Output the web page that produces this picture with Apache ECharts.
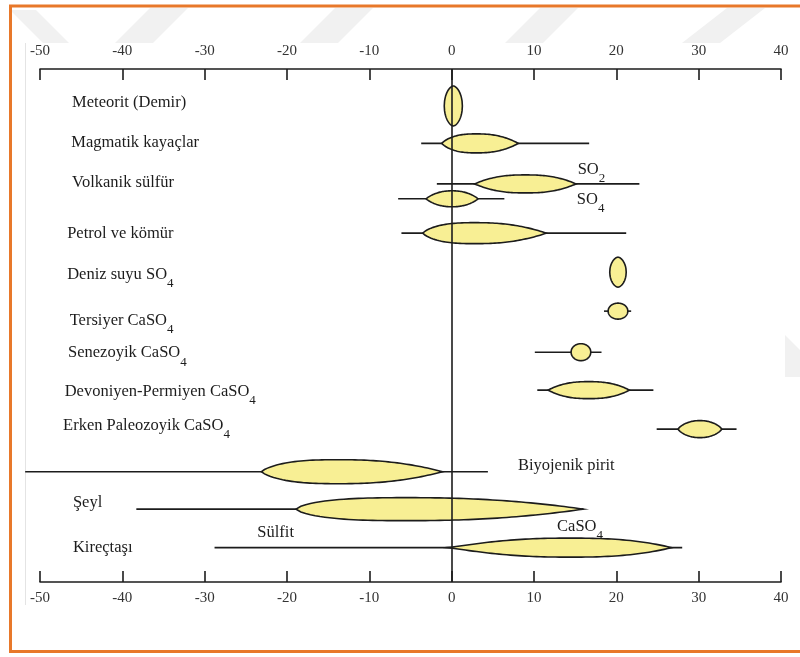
<!DOCTYPE html>
<html>
<head>
<meta charset="utf-8">
<title>Kükürt izotop dağılımı</title>
<script src="https://cdn.jsdelivr.net/npm/echarts@6/dist/echarts.min.js"></script>
<style>
  html, body { margin: 0; padding: 0; background: #fff; }
  #chart { width: 800px; height: 657px; }
</style>
</head>
<body>
<div id="chart"></div>
<script>
// δ34S (‰) aralıkları, satır satır
var rowNames = ['Meteorit (Demir)', 'Magmatik kayaçlar', 'Volkanik sülfür', 'Petrol ve kömür',
  'Deniz suyu SO{s|4}', 'Tersiyer CaSO{s|4}', 'Senezoyik CaSO{s|4}', 'Devoniyen-Permiyen CaSO{s|4}',
  'Erken Paleozoyik CaSO{s|4}', 'Şeyl', 'Kireçtaşı'];

// her çizili satırın dikey sırası (0 üst eksen, 100 alt eksen)
var rowPos   = [7.2, 14.5, 22.4, 25.3, 32.0, 39.6, 47.2, 55.2, 62.6, 70.2, 78.5, 85.8, 93.3];
// toplam aralık (çizgi)
var rangeLo  = [null, -3.7, -1.8, -6.5, -6.1, null, 18.5, 10.1, 10.4, 24.9, -51.8, -38.3, -28.8];
var rangeHi  = [null, 16.7, 22.8, 6.4, 21.2, null, 21.8, 18.2, 24.5, 34.6, 4.4, 16.0, 28.0];
// yoğun aralık (sarı alan)
var coreLo   = [-0.9, -1.2, 2.8, -3.1, -3.5, 19.2, 19.0, 14.5, 11.7, 27.5, -23.1, -18.9, -0.6];
var coreHi   = [1.3, 8.1, 15.1, 3.2, 11.5, 21.2, 21.4, 16.9, 21.6, 32.8, -1.1, 16.0, 26.7];

var tickLabels = [-50, -40, -30, -20, -10, 0, 10, 20, 30, 40];

// yazıların yerleri
var labelX = [-46.1, -46.2, -46.1, -46.7, -46.7, -46.4, -46.6, -47.0, -47.2, -46.0, -46.0];
var labelY = [6.6, 14.4, 22.2, 32.2, 39.6, 48.5, 54.9, 62.4, 69.0, 84.6, 93.4];
var noteText = ['SO{s|2}', 'SO{s|4}', 'Biyojenik pirit', 'CaSO{s|4}', 'Sülfit'];
var noteX    = [15.3, 15.2, 8.05, 12.8, -23.6];
var noteY    = [19.1, 24.9, 77.5, 88.7, 90.4];

// sarı alanların biçimi: yarı kalınlık (px), uç sivriliği (a, b), en kalın yer (p)
var blobShape = [
  {h: 20, a: 1.7, b: 0.5, p: 0.5},
  {h: 9.5, a: 2.5, b: 1, p: 0.45},
  {h: 9, a: 2.5, b: 1, p: 0.5},
  {h: 8, a: 2.2, b: 0.9, p: 0.5},
  {h: 10.5, a: 2.5, b: 1, p: 0.42},
  {h: 15, a: 1.7, b: 0.5, p: 0.5},
  {h: 8, a: 2, b: 0.5, p: 0.5},
  {h: 8.5, a: 2, b: 0.5, p: 0.5},
  {h: 8.5, a: 2.5, b: 1, p: 0.5},
  {h: 8.5, a: 2.2, b: 0.8, p: 0.5},
  {h: 12, a: 2.5, b: 1, p: 0.42},
  {h: 11.5, a: 2.5, b: 1, p: 0.38},
  {h: 9.5, a: 2.5, b: 1, p: 0.55}
];

var FONT = '"Liberation Serif", "Times New Roman", serif';
var INK = '#1c1c1c';
var richStyle = {
  m: {fontSize: 16.5, lineHeight: 18, verticalAlign: 'top', fontFamily: FONT, color: INK},
  s: {fontSize: 13, lineHeight: 13, verticalAlign: 'top', padding: [11, 0, 0, 0], fontFamily: FONT, color: INK}
};

(function () {
  var myChart = echarts.init(document.getElementById('chart'), null, {renderer: 'canvas'});

  var rangeData = [], coreData = [], labelData = [], noteData = [];
  rowPos.forEach(function (y, i) {
    if (rangeLo[i] !== null) rangeData.push([rangeLo[i], rangeHi[i], y]);
    coreData.push([coreLo[i], coreHi[i], y, i]);
  });
  rowNames.forEach(function (t, i) { labelData.push([labelX[i], labelY[i], i]); });
  noteText.forEach(function (t, i) { noteData.push([noteX[i], noteY[i], i]); });

  function richText(txt) {
    // düz parçayı {m|...} içine al
    var hasSub = txt.indexOf('{s|') >= 0;
    var out = hasSub ? '{m|' + txt.replace('{s|', '}{s|') : '{m|' + txt + '}';
    return {text: out, dy: hasSub ? 3 : 0};
  }

  function textItem(list) {
    return function (params, api) {
      var p = api.coord([api.value(0), api.value(1)]);
      var r = richText(list[api.value(2)]);
      return {
        type: 'text',
        x: p[0], y: p[1] + r.dy,
        style: {text: r.text, rich: richStyle, align: 'left', verticalAlign: 'middle', fill: INK}
      };
    };
  }

  var axisBase = {
    type: 'value', min: -50, max: 40, interval: 10,
    axisLine: {show: true, onZero: false, lineStyle: {color: INK, width: 1.6}},
    axisTick: {show: true, inside: true, length: 11, lineStyle: {color: INK, width: 1.6}},
    axisLabel: {
      color: '#333', fontFamily: FONT, fontSize: 15, margin: 9,
      formatter: function (v) { return tickLabels.indexOf(v) >= 0 ? String(v) : ''; }
    },
    splitLine: {show: false}
  };

  // filigran ve çerçeve
  var stripe = '#f1f1f1';
  var graphics = [
    {type: 'polygon', silent: true, z: -10, shape: {points: [[10, 10], [36, 10], [110, 84], [84, 84]]}, style: {fill: stripe}},
    {type: 'polygon', silent: true, z: -10, shape: {points: [[150, 8], [188, 8], [153, 43], [115, 43]]}, style: {fill: stripe}},
    {type: 'polygon', silent: true, z: -10, shape: {points: [[335, 8], [373, 8], [338, 43], [300, 43]]}, style: {fill: stripe}},
    {type: 'polygon', silent: true, z: -10, shape: {points: [[540, 8], [578, 8], [543, 43], [505, 43]]}, style: {fill: stripe}},
    {type: 'polygon', silent: true, z: -10, shape: {points: [[727, 8], [765, 8], [720, 43], [682, 43]]}, style: {fill: stripe}},
    {type: 'polygon', silent: true, z: -10, shape: {points: [[782, 332], [800, 350], [800, 377], [782, 377]]}, style: {fill: stripe}},
    {type: 'rect', silent: true, z: -9, shape: {x: 25, y: 43, width: 760, height: 562}, style: {fill: '#fff'}},
    {type: 'line', silent: true, z: -8, shape: {x1: 25.5, y1: 43, x2: 25.5, y2: 605}, style: {stroke: '#e4e4e4', lineWidth: 1}},
    {type: 'polyline', silent: true, z: 10, shape: {points: [[800, 6], [10.5, 6], [10.5, 651.5], [800, 651.5]]},
      style: {stroke: '#e8782a', lineWidth: 3, fill: null}}
  ];

  var option = {
    backgroundColor: '#fff',
    animation: false,
    graphic: graphics,
    grid: {left: 40, right: 19, top: 69, bottom: 75, containLabel: false},
    xAxis: [
      echarts.util.merge({position: 'top', axisLabel: {margin: 10}}, axisBase, false),
      echarts.util.merge({position: 'bottom', axisLabel: {margin: 9}}, axisBase, false)
    ],
    yAxis: {type: 'value', min: 0, max: 100, inverse: true, show: false},
    series: [
      {
        name: 'aralık',
        type: 'custom',
        xAxisIndex: 0,
        clip: false,
        data: rangeData,
        renderItem: function (params, api) {
          var a = api.coord([api.value(0), api.value(2)]);
          var b = api.coord([api.value(1), api.value(2)]);
          return {type: 'line', shape: {x1: a[0], y1: a[1], x2: b[0], y2: b[1]},
            style: {stroke: INK, lineWidth: 1.6}};
        },
        markLine: {
          silent: true, symbol: 'none', label: {show: false},
          lineStyle: {color: INK, width: 1.6, type: 'solid'},
          data: [{xAxis: 0}]
        },
        z: 2
      },
      {
        name: 'yoğun',
        type: 'custom',
        xAxisIndex: 0,
        clip: false,
        data: coreData,
        renderItem: function (params, api) {
          var s = blobShape[api.value(3)];
          var p0 = api.coord([api.value(0), api.value(2)]);
          var p1 = api.coord([api.value(1), api.value(2)]);
          var k = Math.log(0.5) / Math.log(s.p);
          var n = 60, top = [], bot = [];
          for (var j = 0; j <= n; j++) {
            var t = j / n;
            var u = 2 * Math.pow(t, k) - 1;
            var h = s.h * Math.pow(Math.max(0, 1 - Math.pow(Math.abs(u), s.a)), s.b);
            var x = p0[0] + (p1[0] - p0[0]) * t;
            top.push([x, p0[1] - h]);
            bot.push([x, p0[1] + h]);
          }
          return {type: 'polygon', shape: {points: top.concat(bot.reverse())},
            style: {fill: '#f8ef94', stroke: INK, lineWidth: 1.6}};
        },
        z: 3
      },
      {
        name: 'etiket',
        type: 'custom',
        xAxisIndex: 0,
        clip: false,
        silent: true,
        data: labelData,
        renderItem: textItem(rowNames),
        z: 4
      },
      {
        name: 'not',
        type: 'custom',
        xAxisIndex: 0,
        clip: false,
        silent: true,
        data: noteData,
        renderItem: textItem(noteText),
        z: 4
      }
    ]
  };
  myChart.setOption(option);
  window.addEventListener('resize', function () {
    myChart.resize();
  });
})();
</script>
</body>
</html>
